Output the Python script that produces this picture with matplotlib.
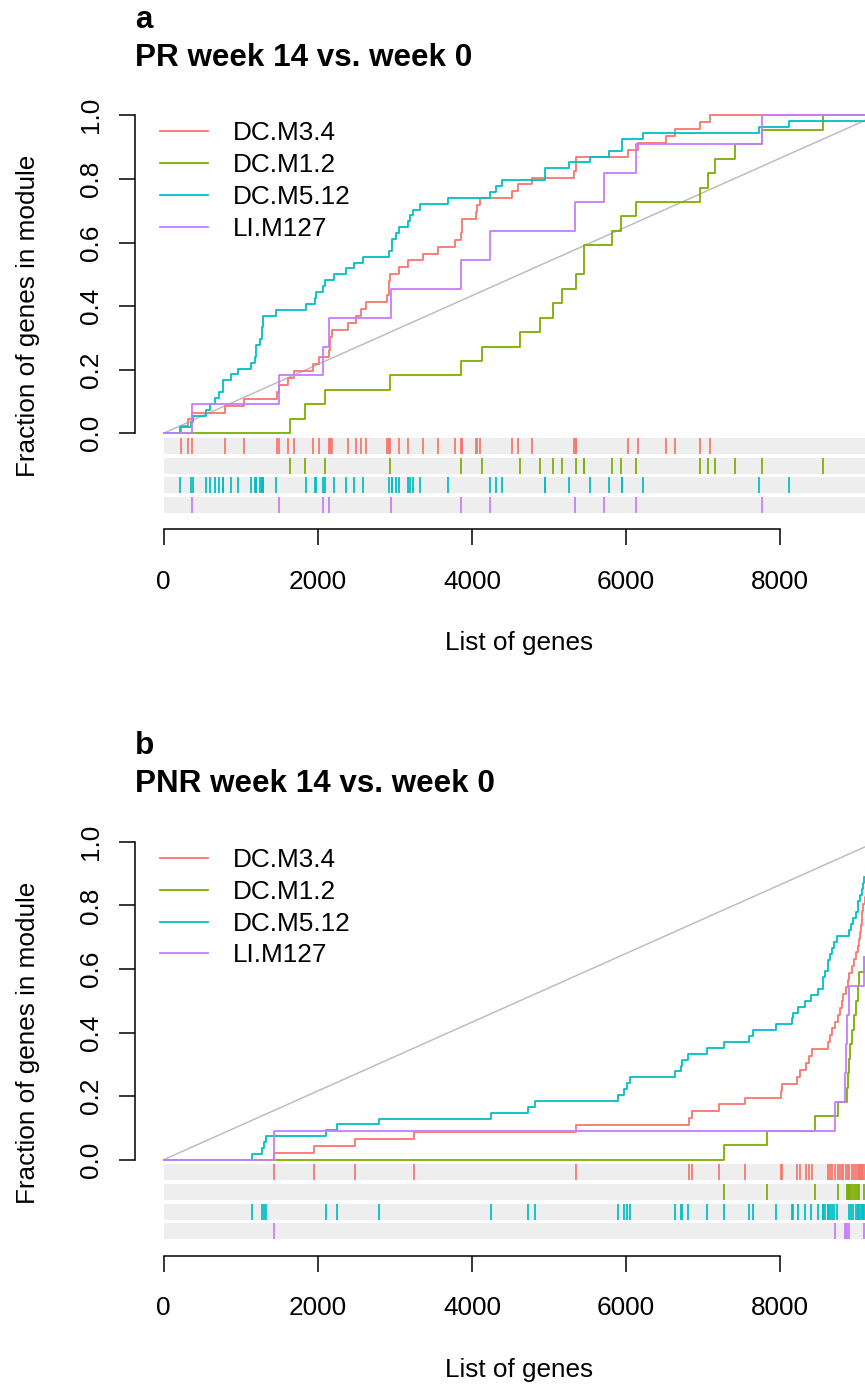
import numpy as np
import matplotlib
matplotlib.use("Agg")
import matplotlib.pyplot as plt

# ---------------- data ----------------
N_GENES = 9245  # length of the ranked gene list
modules = ["DC.M3.4", "DC.M1.2", "DC.M5.12", "LI.M127"]
colors = ["#F8766D", "#7CAE00", "#00BFC4", "#C77CFF"]
panel_letters = ["a", "b"]
panel_titles = ["PR week 14 vs. week 0", "PNR week 14 vs. week 0"]
x_ticks = [0, 2000, 4000, 6000, 8000]
y_ticks = [0.0, 0.2, 0.4, 0.6, 0.8, 1.0]
y_tick_labels = ["0.0", "0.2", "0.4", "0.6", "0.8", "1.0"]
x_label = "List of genes"
y_label = "Fraction of genes in module"

# rank positions of module genes in the list, panel a (PR)
red_a = [228, 322, 375, 800, 1038, 1468, 1493, 1619, 1691, 1933, 2019, 2143, 2165, 2165,
         2182, 2393, 2501, 2565, 2621, 2901, 2922, 2922, 2944, 3051, 3168, 3370, 3555,
         3783, 3857, 3870, 3870, 4051, 4072, 4102, 4515, 4601, 4782, 5320, 5354, 5354,
         6030, 6159, 6517, 6633, 6964, 7085]
green_a = [1640, 1838, 2101, 2940, 3861, 4128, 4618, 4881, 5049, 5165, 5346, 5458, 5458,
           5811, 5940, 6133, 6964, 7058, 7153, 7411, 7764, 8557]
cyan_a = [211, 358, 383, 556, 598, 672, 719, 771, 771, 874, 960, 1133, 1188, 1205, 1205,
          1253, 1274, 1274, 1295, 1295, 1459, 1846, 1962, 1984, 2070, 2101, 2208, 2371,
          2466, 2583, 2922, 2960, 2960, 3017, 3051, 3173, 3199, 3232, 3331, 3684, 4236,
          4317, 4386, 4954, 4954, 5255, 5527, 5784, 5944, 5944, 6215, 7730, 8109, 9174]
purple_a = [375, 1497, 2070, 2143, 2952, 3857, 4231, 5341, 5708, 6133, 7764]

# panel b (PNR)
red_b = [1437, 1952, 2484, 3249, 5350, 6820, 6860, 7209, 7542, 8005, 8026, 8212, 8255,
         8334, 8376, 8416, 8614, 8645, 8667, 8709, 8744, 8774, 8796, 8817, 8848, 8874,
         8891, 8927, 8960, 8978, 9003, 9021, 9038, 9047, 9055, 9063, 9077, 9103, 9124,
         9144, 9159, 9174, 9189, 9205, 9220, 9235]
green_b = [7274, 7823, 8447, 8744, 8861, 8876, 8891, 8906, 8934, 8960, 8978, 9003, 9023,
           9089, 9108, 9129, 9149, 9169, 9189, 9205, 9220, 9235]
cyan_b = [1152, 1281, 1307, 1330, 2108, 2246, 2795, 4248, 4732, 4818, 5891, 5977, 6008,
          6051, 6634, 6709, 6729, 6807, 7045, 7270, 7594, 7651, 7941, 8148, 8169, 8226,
          8320, 8398, 8485, 8550, 8550, 8580, 8614, 8614, 8645, 8674, 8700, 8732, 8895,
          8922, 8947, 8978, 9003, 9012, 9034, 9064, 9073, 9089, 9114, 9139, 9164, 9189,
          9214, 9240]
purple_b = [1437, 8709, 8841, 8856, 8871, 8896, 9089, 9134, 9174, 9205, 9235]

panels = [[red_a, green_a, cyan_a, purple_a], [red_b, green_b, cyan_b, purple_b]]

# ---------------- layout ----------------
plt.rcParams["font.family"] = ["Liberation Sans", "DejaVu Sans"]
FW, FH = 865, 1385
fig = plt.figure(figsize=(FW / 100, FH / 100), dpi=100)

FS = 18.8
FS_TITLE = 22.6
PX_PER_UNIT = 0.0771
AX_LEFT = 135.0
AX_W = 1.08 * N_GENES * PX_PER_UNIT
AX_TOP = 102.6
AX_BOT = 529.3
AX_H = AX_BOT - AX_TOP
PANEL_OFF = 726.5
YLIM = (-0.302, 1.04)

BAND_TOP0 = -0.0148
BAND_PITCH = 0.0615
BAND_H = 0.0503

for k, mods in enumerate(panels):
    off = k * PANEL_OFF
    ax = fig.add_axes([AX_LEFT / FW, 1 - (AX_BOT + off) / FH, AX_W / FW, AX_H / FH])
    ax.set_xlim(-0.04 * N_GENES, 1.04 * N_GENES)
    ax.set_ylim(*YLIM)
    ax.patch.set_visible(False)

    # diagonal reference
    ax.plot([0, N_GENES], [0, 1], color="#BEBEBE", lw=1.1, zorder=2)

    handles = []
    for i, (pos, col) in enumerate(zip(mods, colors)):
        pos = np.sort(np.asarray(pos, dtype=float))
        n = len(pos)
        xs = np.concatenate([[0], pos, [N_GENES]])
        ys = np.concatenate([[0], np.arange(1, n + 1) / n, [1]])
        h, = ax.plot(xs, ys, drawstyle="steps-post", color=col, lw=1.3, zorder=3 + i)
        handles.append(h)

        top = BAND_TOP0 - i * BAND_PITCH
        ax.barh(top - BAND_H / 2, N_GENES, left=0, height=BAND_H, color="#EEEEEE",
                edgecolor="none", zorder=1)
        ax.vlines(pos, top - BAND_H, top, colors=col, lw=1.4, alpha=0.9, zorder=2)

    # axes styling (R-like)
    for s in ["top", "right"]:
        ax.spines[s].set_visible(False)
    ax.spines["left"].set_bounds(0, 1)
    ax.spines["bottom"].set_bounds(0, 8000)
    for s in ["left", "bottom"]:
        ax.spines[s].set_linewidth(1.1)
    ax.set_xticks(x_ticks)
    ax.set_xticklabels([str(t) for t in x_ticks])
    ax.set_yticks(y_ticks)
    ax.set_yticklabels(y_tick_labels)
    ax.tick_params(axis="both", direction="out", length=11.3, width=1.1, labelsize=FS)
    ax.tick_params(axis="x", pad=18)
    ax.tick_params(axis="y", pad=12, labelrotation=90)
    for lbl in ax.get_yticklabels():
        lbl.set_va("center")

    ax.set_xlabel(x_label, fontsize=FS, va="center")
    ax.xaxis.set_label_coords((519 - AX_LEFT) / AX_W, -(643 - AX_BOT) / AX_H)
    ax.set_ylabel(y_label, fontsize=FS, va="center")
    ax.yaxis.set_label_coords((28 - AX_LEFT) / AX_W, (AX_BOT - 316) / AX_H)

    ax.set_title(panel_titles[k], loc="left", fontsize=FS_TITLE, fontweight="bold",
                 y=(AX_BOT - 66) / AX_H, pad=0)
    ax.text(0, (AX_BOT - 28) / AX_H, panel_letters[k], transform=ax.transAxes,
            fontsize=FS_TITLE, fontweight="bold", ha="left", va="baseline")

    ax.legend(handles, modules, loc="upper left",
              bbox_to_anchor=((160 - AX_LEFT) / AX_W, 1 - (121.5 - AX_TOP) / AX_H),
              frameon=False, fontsize=FS, handlelength=1.84, handletextpad=0.96,
              labelspacing=0.30, borderpad=0, borderaxespad=0)

fig.savefig("out.png", dpi=100)
